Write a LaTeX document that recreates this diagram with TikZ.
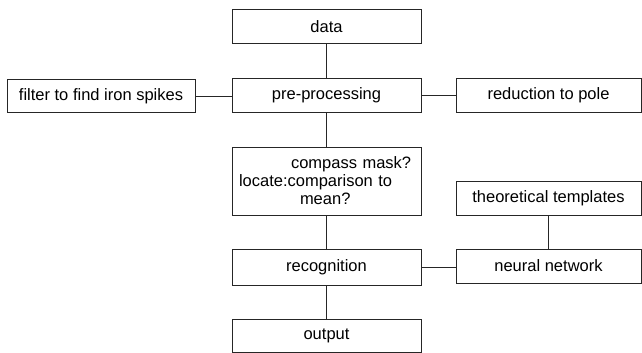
\documentclass[tikz,border=0pt]{standalone}
\usepackage{fontspec}
\setmainfont{Liberation Sans}
\begin{document}
\begin{tikzpicture}[x=1pt,y=-1pt,
		box/.style={draw=black!85,line width=.9pt,minimum width=189pt,minimum height=34pt,inner sep=0pt,font=\fontsize{16.5}{18}\selectfont},
		link/.style={draw=black!85,line width=.9pt}]
				\def\cx{326.5}
				\def\rx{548.5}
				\useasboundingbox (0,0) rectangle (642,353);
				% cột giữa
				\node[box] (data) at (\cx,26.5) {data};
				\node[box] (pre) at (\cx,95) {pre-processing};
				\node[box,minimum height=68pt,text width=175pt,inner xsep=7pt,align=left] (locate) at (\cx,181)
					{\hspace*{52pt}compass mask?\\locate:comparison to\\\hspace*{61pt}mean?};
				\node[box,minimum height=36pt] (recog) at (\cx,267) {recognition};
				\node[box,minimum height=33pt] (output) at (\cx,335.5) {output};
				% hai bên
				\node[box,minimum width=188pt,minimum height=33pt] (filter) at (101,96) {filter to find iron spikes};
				\node[box,minimum width=185pt] (pole) at (\rx,95) {reduction to pole};
				\node[box,minimum width=185pt] (templ) at (\rx,198) {theoretical templates};
				\node[box,minimum width=185pt] (neural) at (\rx,266) {neural network};
				\draw[link] (data) -- (pre);
				\draw[link] (pre) -- (locate);
				\draw[link] (locate) -- (recog);
				\draw[link] (recog) -- (output);
				\draw[link] (filter.east) -- (filter.east-|pre.west);
				\draw[link] (pre) -- (pole);
				\draw[link] (templ) -- (neural);
				\draw[link] (recog.east) -- (recog.east-|neural.west);
			\end{tikzpicture}
\end{document}
